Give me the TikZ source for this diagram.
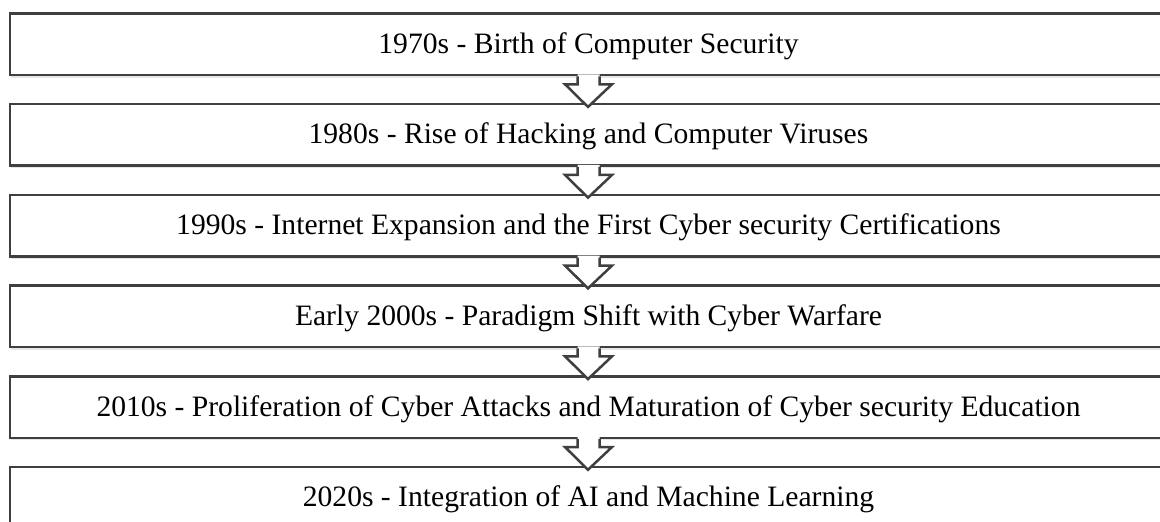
\documentclass[tikz,border=0pt]{standalone}
\usepackage{fontspec}
\setmainfont{Liberation Serif}
\usetikzlibrary{calc,shadows}
\definecolor{edge}{HTML}{3F3F3F}
\tikzset{
  stagebox/.style={draw=edge, line width=2.5pt, fill=white, rectangle,
    minimum width=1157pt, minimum height=61.5pt, inner sep=0pt,
    text height=20pt, text depth=2pt,
    font=\fontsize{29.6}{34}\selectfont,
    drop shadow={opacity=0.2, shadow xshift=1pt, shadow yshift=-2.5pt}},
  arrowfill/.style={fill=white},
  arrowline/.style={draw=edge, line width=2.5pt, line join=miter}
}
\begin{document}
\begin{tikzpicture}[x=1pt,y=-1pt]
\useasboundingbox (0,0) rectangle (1160,522);
\clip (0,0) rectangle (1160,522);
\node[stagebox] (b1) at (588.5,44.25) {1970s - Birth of Computer Security};
\node[stagebox] (b2) at (588.5,134.95) {1980s - Rise of Hacking and Computer Viruses};
\node[stagebox] (b3) at (588.5,225.65) {1990s - Internet Expansion and the First Cyber security Certifications};
\node[stagebox] (b4) at (588.5,316.35) {Early 2000s - Paradigm Shift with Cyber Warfare};
\node[stagebox] (b5) at (588.5,407.05) {2010s - Proliferation of Cyber Attacks and Maturation of Cyber security Education};
\node[stagebox] (b6) at (588.5,497.75) {2020s - Integration of AI and Machine Learning};
\foreach \a/\b in {b1/b2,b2/b3,b3/b4,b4/b5,b5/b6}{
  \fill[arrowfill] ($(\a.south)+(-11,-2)$) -- ($(\a.south)+(-11,8)$) -- ($(\a.south)+(-23.5,8)$)
     -- ($(\b.north)+(-0.5,4)$) -- ($(\a.south)+(23.5,8)$) -- ($(\a.south)+(11,8)$)
     -- ($(\a.south)+(11,-2)$) -- cycle;
  \draw[arrowline] ($(\a.south)+(-11,0)$) -- ($(\a.south)+(-11,8)$) -- ($(\a.south)+(-23.5,8)$)
     -- ($(\b.north)+(-0.5,4)$) -- ($(\a.south)+(23.5,8)$) -- ($(\a.south)+(11,8)$)
     -- ($(\a.south)+(11,0)$);
}
\end{tikzpicture}
\end{document}
